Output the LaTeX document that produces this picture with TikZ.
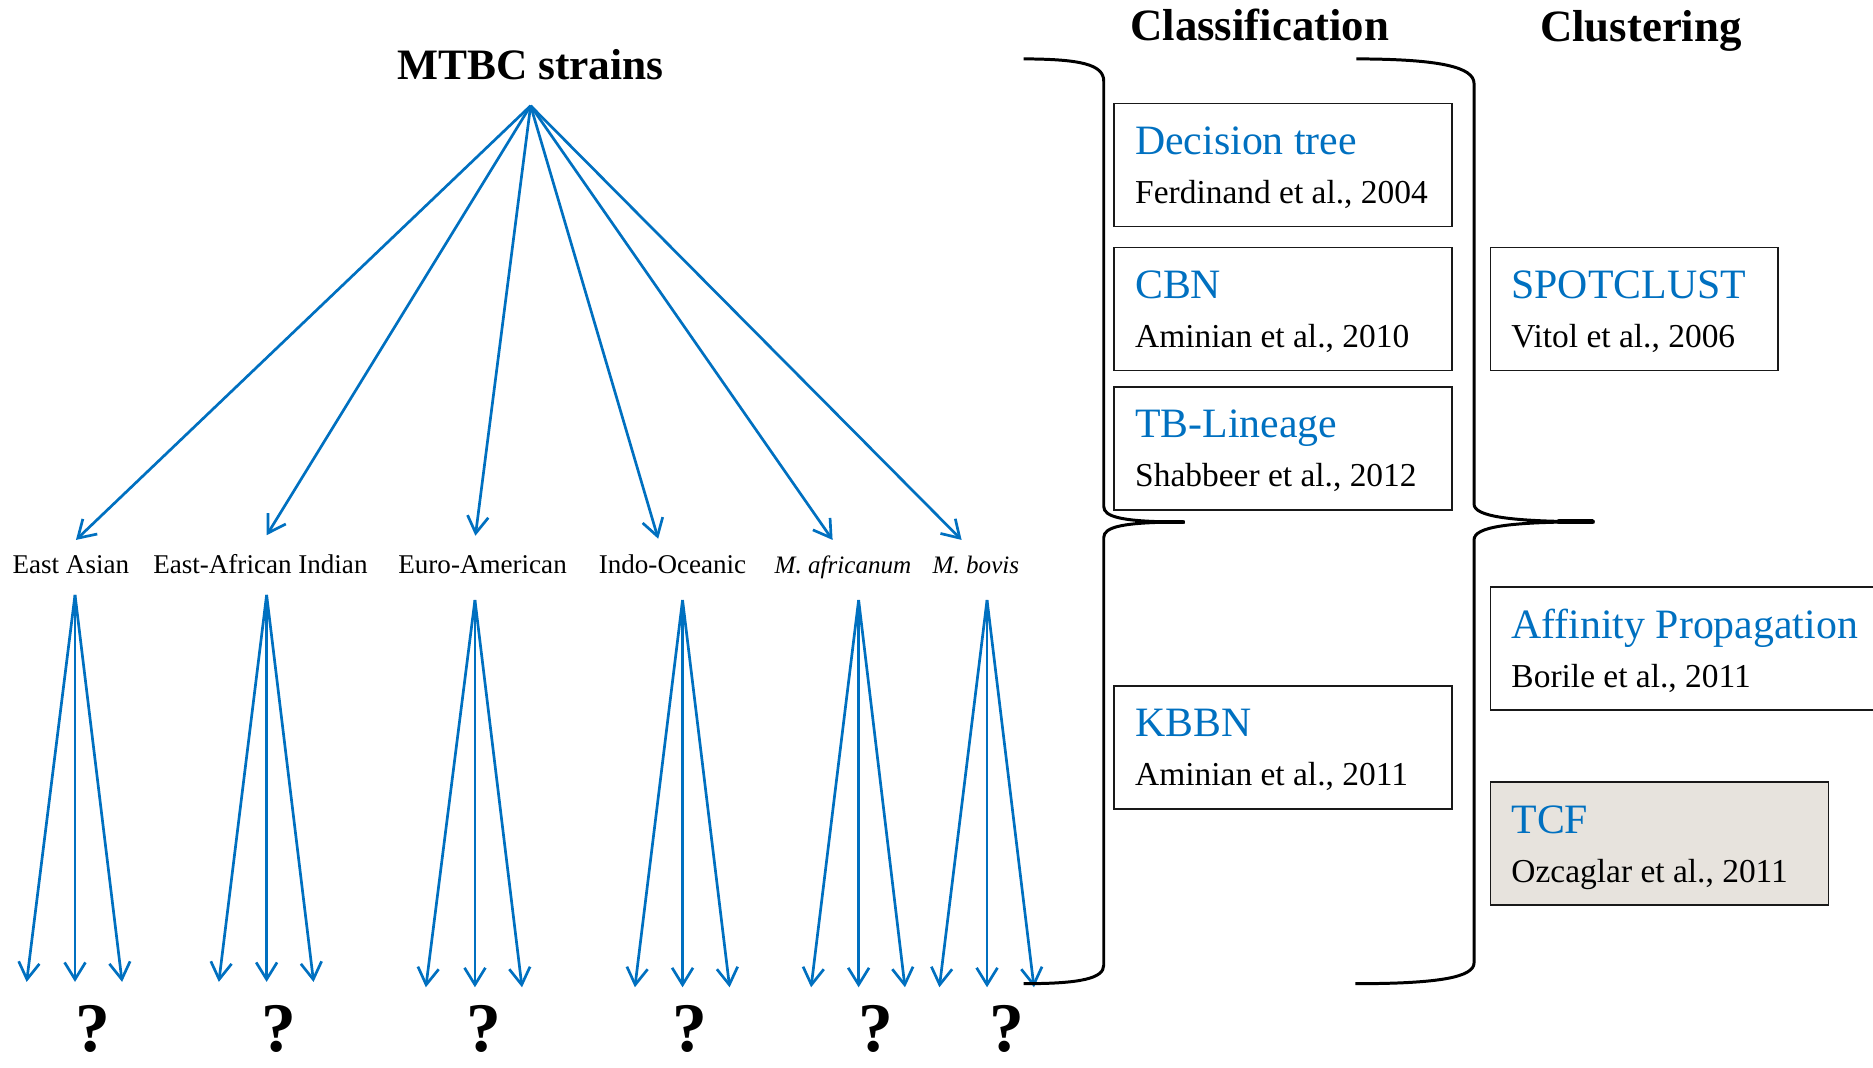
\documentclass[tikz,border=0pt]{standalone}
\usepackage{fontspec}
\setmainfont{Liberation Serif}
\usetikzlibrary{arrows.meta}
\definecolor{mblue}{HTML}{0070C0}
\definecolor{tcffill}{HTML}{E7E3DD}

\begin{document}
\begin{tikzpicture}[x=0.6pt,y=-0.6pt,
  fan/.style={draw=mblue, line width=1.35pt,
    -{Straight Barb[length=8.5pt,width=10.5pt,line width=1.35pt]}},
  brace/.style={draw=black, line width=1.5pt},
  brace tip/.style={draw=black, line width=2.3pt, line cap=round},
  heading/.style={font=\bfseries\fontsize{22.5}{26}\selectfont, anchor=base},
  strain/.style={font=\fontsize{13.6}{16}\selectfont, anchor=base, inner sep=0pt},
  species/.style={strain, font=\itshape\fontsize{12.6}{15}\selectfont},
  qmark/.style={font=\bfseries\fontsize{35}{38}\selectfont, anchor=base, inner sep=0pt},
  methodbox/.style={draw=black!90, line width=0.9pt, rectangle, anchor=north west,
    inner sep=0pt, outer sep=0pt, minimum height=61.8pt},
  wide/.style={minimum width=169.8pt},
  method/.style={font=\fontsize{21}{24}\selectfont, text=mblue, anchor=base west, inner sep=0pt},
  cite/.style={font=\fontsize{16.8}{20}\selectfont, anchor=base west, inner sep=0pt}
]
\clip (0,0) rectangle (1568,894);

% ---------------- strain tree ----------------
\node[heading, font=\bfseries\fontsize{21.8}{26}\selectfont] (mtbc) at (444,66.3) {MTBC strains};
\coordinate (apex) at (444.2,88.5);

\node[strain]  (ea)  at (59.3,480)  {East Asian};
\node[strain]  (eai) at (218,480)   {East-African Indian};
\node[strain]  (eam) at (404,480)   {Euro-American};
\node[strain]  (io)  at (563,480)   {Indo-Oceanic};
\node[species] (maf) at (705.7,480) {M. africanum};
\node[species] (mbo) at (817,480)   {M. bovis};

\coordinate (ea-in)  at (63.6,452);
\coordinate (eai-in) at (223.3,448);
\coordinate (eam-in) at (398,448.5);
\coordinate (io-in)  at (551,451);
\coordinate (maf-in) at (697,452);
\coordinate (mbo-in) at (805,452);

\foreach \n in {ea,eai,eam,io,maf,mbo}
  \draw[fan] (apex) -- (\n-in);

% sub-lineage fans below each strain
\foreach \n/\ax/\ay/\lx/\rx/\ty/\qx in {
    ea/62.8/498/22.3/102.2/822/77.5,
    eai/223.2/498/183.2/262.5/822/233.7,
    eam/397.6/502.3/356.5/437/826.5/405.2,
    io/571.4/502.3/531.5/610.8/826.5/577.3,
    maf/718.8/502.3/679/757.6/826.5/733,
    mbo/826.3/502.3/786.4/865.6/826.5/842.8} {
  \coordinate (\n-top) at (\ax,\ay);
  \coordinate (\n-l) at (\lx,\ty);
  \coordinate (\n-m) at (\ax,\ty);
  \coordinate (\n-r) at (\rx,\ty);
  \draw[fan] (\n-top) -- (\n-l);
  \draw[fan] (\n-top) -- (\n-m);
  \draw[fan] (\n-top) -- (\n-r);
  \node[qmark] (\n-q) at (\qx,880) {?};
}

% ---------------- headings ----------------
\node[heading] (classif) at (1054.6,33.5) {Classification};
\node[heading] (cluster) at (1373.7,35) {Clustering};

% ---------------- braces ----------------
\draw[brace] (857,49.3) .. controls (905,49.5) and (924,54) .. (924,68)
  -- (924,424) .. controls (924,433) and (940,437) .. (992,437)
  .. controls (940,437) and (924,441) .. (924,450)
  -- (924,808) .. controls (924,819) and (905,823.5) .. (857,823.5);
\draw[brace tip] (968,437) -- (990,437);

\draw[brace] (1135.4,49.3) .. controls (1205,49.5) and (1234,56) .. (1234,70)
  -- (1234,422) .. controls (1234,432) and (1262,436.8) .. (1335,436.8)
  .. controls (1262,436.8) and (1234,441) .. (1234,452)
  -- (1234,806) .. controls (1234,818) and (1205,823.5) .. (1134.6,823.5);
\draw[brace tip] (1305,436.8) -- (1333,436.8);

% ---------------- classification methods ----------------
\node[methodbox, wide] (dt) at (932.8,86.7) {};
\node[method] (dt-t) at ([shift={(17.2,42.5)}]dt.north west) {Decision tree};
\node[cite]   (dt-c) at ([shift={(17.2,83.5)}]dt.north west) {Ferdinand et al., 2004};

\node[methodbox, wide] (cbn) at (932.8,207.2) {};
\node[method] (cbn-t) at ([shift={(17.2,42.5)}]cbn.north west) {CBN};
\node[cite]   (cbn-c) at ([shift={(17.2,83.5)}]cbn.north west) {Aminian et al., 2010};

\node[methodbox, wide] (tbl) at (932.8,323.8) {};
\node[method] (tbl-t) at ([shift={(17.2,42.5)}]tbl.north west) {TB-Lineage};
\node[cite]   (tbl-c) at ([shift={(17.2,83.5)}]tbl.north west) {Shabbeer et al., 2012};

\node[methodbox, wide] (kbbn) at (932.8,574.2) {};
\node[method] (kbbn-t) at ([shift={(17.2,42.5)}]kbbn.north west) {KBBN};
\node[cite]   (kbbn-c) at ([shift={(17.2,83.5)}]kbbn.north west) {Aminian et al., 2011};

% ---------------- clustering methods ----------------
\node[methodbox, minimum width=144.3pt] (spot) at (1247.8,207.2) {};
\node[method] (spot-t) at ([shift={(17.2,42.5)}]spot.north west) {SPOTCLUST};
\node[cite]   (spot-c) at ([shift={(17.2,83.5)}]spot.north west) {Vitol et al., 2006};

\node[methodbox, minimum width=215pt] (ap) at (1247.8,491.7) {};
\node[method] (ap-t) at ([shift={(17.2,42.5)}]ap.north west) {Affinity Propagation};
\node[cite]   (ap-c) at ([shift={(17.2,83.5)}]ap.north west) {Borile et al., 2011};

\node[methodbox, wide, fill=tcffill] (tcf) at (1247.8,654.9) {};
\node[method] (tcf-t) at ([shift={(17.2,42.5)}]tcf.north west) {TCF};
\node[cite]   (tcf-c) at ([shift={(17.2,83.5)}]tcf.north west) {Ozcaglar et al., 2011};
\end{tikzpicture}
\end{document}
